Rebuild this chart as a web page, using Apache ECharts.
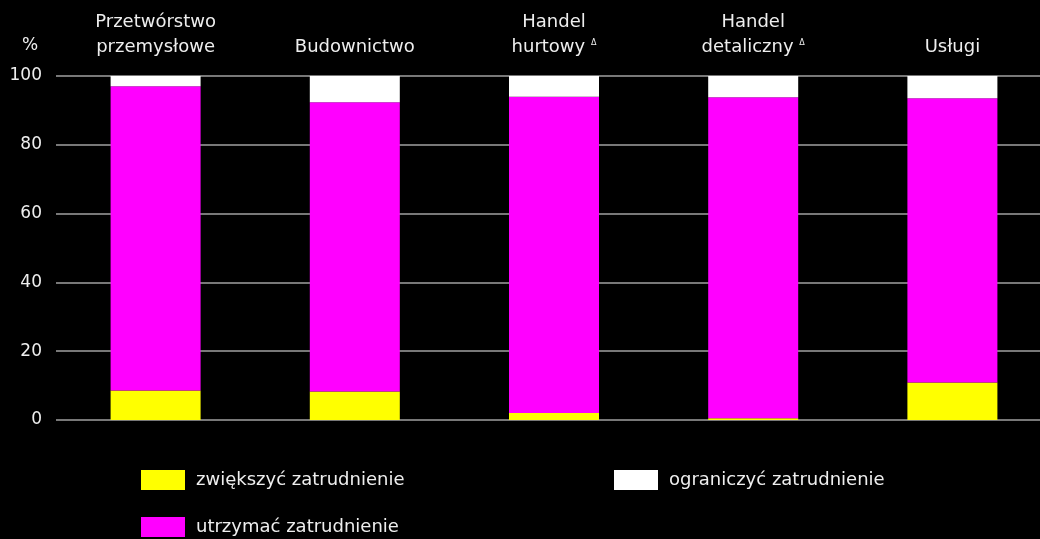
<!DOCTYPE html>
<html><head><meta charset="utf-8">
<script src="https://cdn.jsdelivr.net/npm/echarts@6/dist/echarts.min.js"></script>
<style>html,body{margin:0;padding:0;background:#000;overflow:hidden}#c{width:1052px;height:539px}</style>
</head><body><div id="c"></div>
<script>
const categories = ["Przetwórstwo\nprzemysłowe", "Budownictwo", "Handel\nhurtowyΔ", "Handel\ndetalicznyΔ", "Usługi"];
const zwiekszyc = [8.6, 8.3, 2.0, 0.5, 10.9];
const utrzymac = [88.4, 84.1, 92.0, 93.3, 82.6];
const ograniczyc = [3.0, 7.6, 6.0, 6.2, 6.5];
const yTicks = [0, 20, 40, 60, 80, 100];

const FONT = "DejaVu Sans";
const TXT = "#eeeeee";
const chart = echarts.init(document.getElementById('c'));
const legendBase = {
  orient: 'horizontal', itemWidth: 44, itemHeight: 20, icon: 'rect',
  textStyle: {color: TXT, fontFamily: FONT, fontSize: 18, padding: [0, 0, 0, 6]}
};
chart.setOption({
  backgroundColor: '#000',
  animation: false,
  textStyle: {fontFamily: FONT},
  grid: {left: 56, top: 76, bottom: 119, right: 0},
  legend: [
    Object.assign({left: 141, top: 465, padding: [5, 5, 5, 0], data: ['zwiększyć zatrudnienie']}, legendBase),
    Object.assign({left: 614, top: 465, padding: [5, 5, 5, 0], data: ['ograniczyć zatrudnienie']}, legendBase),
    Object.assign({left: 141, top: 512, padding: [5, 5, 5, 0], data: ['utrzymać zatrudnienie']}, legendBase)
  ],
  graphic: [{type: 'text', left: 22, top: 37, style: {text: '%', fill: TXT, font: '17px "DejaVu Sans"'}}],
  xAxis: {
    type: 'category', position: 'top', data: categories,
    axisLine: {show: false}, axisTick: {show: false},
    axisLabel: {
      interval: 0, color: TXT, fontSize: 18, lineHeight: 25, margin: 16, fontFamily: FONT,
      formatter: v => v.replace('Δ', ' {sup|Δ}'),
      rich: {sup: {fontSize: 8, color: TXT, padding: [0, 0, 10, 0]}}
    }
  },
  yAxis: {
    type: 'value', min: 0, max: 100, interval: 20,
    axisLine: {show: false}, axisTick: {show: false},
    axisLabel: {color: TXT, fontSize: 17, margin: 14, fontFamily: FONT, formatter: v => yTicks.includes(v) ? String(v) : ''},
    splitLine: {lineStyle: {color: '#a0a0a0', width: 1.5}}
  },
  series: [
    {name: 'zwiększyć zatrudnienie', type: 'bar', stack: 's', barWidth: 90, data: zwiekszyc, itemStyle: {color: '#ffff00'}},
    {name: 'utrzymać zatrudnienie', type: 'bar', stack: 's', barWidth: 90, data: utrzymac, itemStyle: {color: '#ff00ff'}},
    {name: 'ograniczyć zatrudnienie', type: 'bar', stack: 's', barWidth: 90, data: ograniczyc, itemStyle: {color: '#ffffff'}}
  ]
});
</script></body></html>
